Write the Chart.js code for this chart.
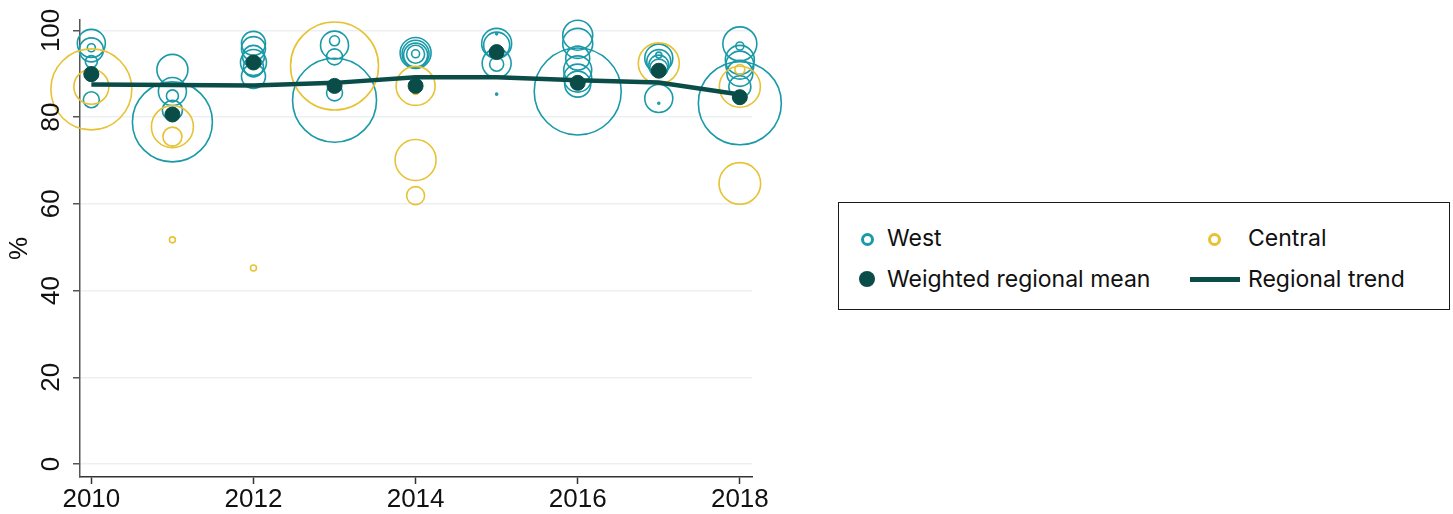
<!DOCTYPE html>
<html>
<head>
<meta charset="utf-8">
<script src="https://cdn.jsdelivr.net/npm/chart.js@4/dist/chart.umd.min.js"></script>
<style>
  html, body { margin: 0; padding: 0; background: #fff; }
  body { width: 1453px; height: 514px; position: relative; overflow: hidden; }
  #wrap { position: absolute; left: 0; top: 0; width: 790px; height: 514px; }
  #legend {
    position: absolute; left: 838px; top: 202px; width: 612px; height: 108px;
    box-sizing: border-box; border: 1px solid #1a1a1a;
    font-family: Inter, "Noto Sans", sans-serif; font-size: 23px; color: #111;
  }
  .item { position: absolute; white-space: nowrap; line-height: 26px; }
  .ring { position: absolute; width: 7px; height: 7px; border-radius: 50%; border: 3px solid; }
  .dot { position: absolute; width: 16px; height: 16px; border-radius: 50%; }
  .bar { position: absolute; width: 50px; height: 5px; }
</style>
</head>
<body>
<div id="wrap"><canvas id="chart"></canvas></div>
<div id="legend">
  <span class="ring" style="left:22px; top:30px; border-color:#1a9aa8"></span>
  <span class="item" style="left:48px; top:22px">West</span>
  <span class="ring" style="left:369px; top:30px; border-color:#e6c234"></span>
  <span class="item" style="left:409px; top:22px">Central</span>
  <span class="dot" style="left:20px; top:68px; background:#0a4c48"></span>
  <span class="item" style="left:48px; top:63px">Weighted regional mean</span>
  <span class="bar" style="left:351px; top:74px; background:#0a4c48"></span>
  <span class="item" style="left:409px; top:63px">Regional trend</span>
</div>
<script>
// ── data ─────────────────────────────────────
const years = [2010, 2011, 2012, 2013, 2014, 2015, 2016, 2017, 2018];
const xTicks = [2010, 2012, 2014, 2016, 2018];
const yTicks = [0, 20, 40, 60, 80, 100];

// West: one bubble per district (year, %, marker radius)
const westYear = [2010, 2010, 2010, 2010, 2010, 2010,
  2011, 2011, 2011, 2011, 2011,
  2012, 2012, 2012, 2012, 2012, 2012,
  2013, 2013, 2013, 2013, 2013,
  2014, 2014, 2014, 2014, 2014,
  2015, 2015, 2015, 2015, 2015, 2015,
  2016, 2016, 2016, 2016, 2016, 2016, 2016,
  2017, 2017, 2017, 2017, 2017, 2017, 2017,
  2018, 2018, 2018, 2018, 2018, 2018, 2018];
const westPct = [97.0, 95.5, 96.0, 92.8, 90.0, 84.0,
  90.9, 85.9, 84.9, 81.6, 78.9,
  97.0, 95.8, 94.0, 92.6, 91.6, 89.4,
  97.6, 96.6, 93.9, 85.6, 83.9,
  94.8, 94.6, 94.3, 94.5, 94.6,
  97.0, 96.6, 92.4, 92.2, 99.2, 85.3,
  98.9, 97.0, 93.6, 90.9, 89.0, 87.6, 85.9,
  93.6, 92.8, 92.0, 91.3, 94.3, 84.3, 83.2,
  96.9, 96.4, 93.2, 92.0, 90.1, 87.0, 83.2];
const westSize = [14, 12, 4, 6, 7, 8,
  15.5, 14, 6, 10, 40,
  12, 12, 11, 13, 10, 12,
  5, 14, 8, 8, 42,
  15.5, 13.5, 12, 9, 4,
  15, 13, 14.5, 7, 1, 1,
  15, 15, 12, 14, 14, 13, 43.5,
  14, 12, 10, 9, 3, 14, 1,
  17, 4, 14.5, 14, 13, 11, 41.5];

// Central
const centralYear = [2010, 2010, 2011, 2011, 2011, 2012, 2013,
  2014, 2014, 2014, 2014, 2017, 2018, 2018, 2018];
const centralPct = [86.4, 87.0, 77.8, 75.5, 51.7, 45.2, 91.8,
  87.2, 85.9, 70.1, 61.9, 92.4, 87.0, 91.0, 64.7];
const centralSize = [40.5, 17.5, 21, 9.5, 3, 3, 44,
  19.5, 3, 20.5, 9, 20.5, 20.5, 5, 20.8];

// weighted regional mean and fitted trend, one value per year
const meanPct = [89.9, 80.6, 92.6, 87.2, 87.2, 95.0, 87.9, 90.7, 84.6];
const trendPct = [87.5, 87.4, 87.3, 87.9, 89.2, 89.2, 88.5, 88.0, 85.2];

// ── styles ───────────────────────────────────
const TEAL = '#1a9aa8';
const GOLD = '#e6c234';
const DARK = '#0a4c48';
const FAMILY = "'Liberation Sans', Arial, sans-serif";
const tickFont = { family: FAMILY, size: 26 };

const bubbles = (xs, ys, rs) => xs.map((x, i) => ({ x: x, y: ys[i], r: rs[i] }));
const points = ys => years.map((x, i) => ({ x: x, y: ys[i] }));

// y labels stand upright along the axis, reading bottom to top
const uprightYLabels = {
  id: 'uprightYLabels',
  afterDraw(chart) {
    const y = chart.scales.y;
    const ctx = chart.ctx;
    ctx.save();
    ctx.font = tickFont.size + 'px ' + FAMILY;
    ctx.fillStyle = '#111';
    ctx.textAlign = 'center';
    ctx.textBaseline = 'alphabetic';
    yTicks.forEach(v => {
      ctx.save();
      ctx.translate(y.right - 21, y.getPixelForValue(v));
      ctx.rotate(-Math.PI / 2);
      ctx.fillText(String(v), 0, 0);
      ctx.restore();
    });
    ctx.restore();
  }
};

new Chart(document.getElementById('chart'), {
  type: 'bubble',
  data: {
    datasets: [
      {
        label: 'Weighted regional mean',
        type: 'scatter',
        data: points(meanPct),
        backgroundColor: DARK,
        borderColor: DARK,
        pointRadius: 7.5,
        order: 0,
        clip: false
      },
      {
        label: 'Regional trend',
        type: 'line',
        data: points(trendPct),
        borderColor: DARK,
        borderWidth: 4.5,
        pointRadius: 0,
        tension: 0,
        order: 1,
        clip: false
      },
      {
        label: 'Central',
        data: bubbles(centralYear, centralPct, centralSize),
        borderColor: GOLD,
        backgroundColor: 'rgba(0,0,0,0)',
        borderWidth: 1.6,
        order: 2,
        clip: false
      },
      {
        label: 'West',
        data: bubbles(westYear, westPct, westSize),
        borderColor: TEAL,
        backgroundColor: 'rgba(0,0,0,0)',
        borderWidth: 1.6,
        order: 3,
        clip: false
      }
    ]
  },
  plugins: [uprightYLabels],
  options: {
    responsive: true,
    maintainAspectRatio: false,
    animation: false,
    events: [],
    layout: { autoPadding: false, padding: { top: 20, right: 38, left: 0, bottom: 0 } },
    plugins: { legend: { display: false }, tooltip: { enabled: false } },
    scales: {
      x: {
        type: 'linear',
        min: 2009.86,
        max: 2018.15,
        afterBuildTicks: s => { s.ticks = xTicks.map(v => ({ value: v })); },
        afterFit: s => { s.height = 37; },
        ticks: { callback: v => String(v), font: tickFont, color: '#111', padding: 0, maxRotation: 0 },
        grid: { drawOnChartArea: false, tickLength: 7, tickColor: '#333', tickWidth: 1.5 },
        border: { color: '#333', width: 1.5 }
      },
      y: {
        min: -3,
        max: 102.4,
        afterBuildTicks: s => { s.ticks = yTicks.map(v => ({ value: v })); },
        afterFit: s => { s.width = 80; },
        ticks: { display: false },
        grid: { color: '#ebf0f2', lineWidth: 1.5, tickLength: 7, tickColor: '#555', tickWidth: 1.5 },
        border: { color: '#555', width: 1.5 },
        title: { display: true, text: '%', font: { family: FAMILY, size: 26 }, color: '#111', padding: { top: 4, bottom: 0 } }
      }
    }
  }
});
</script>
</body>
</html>
